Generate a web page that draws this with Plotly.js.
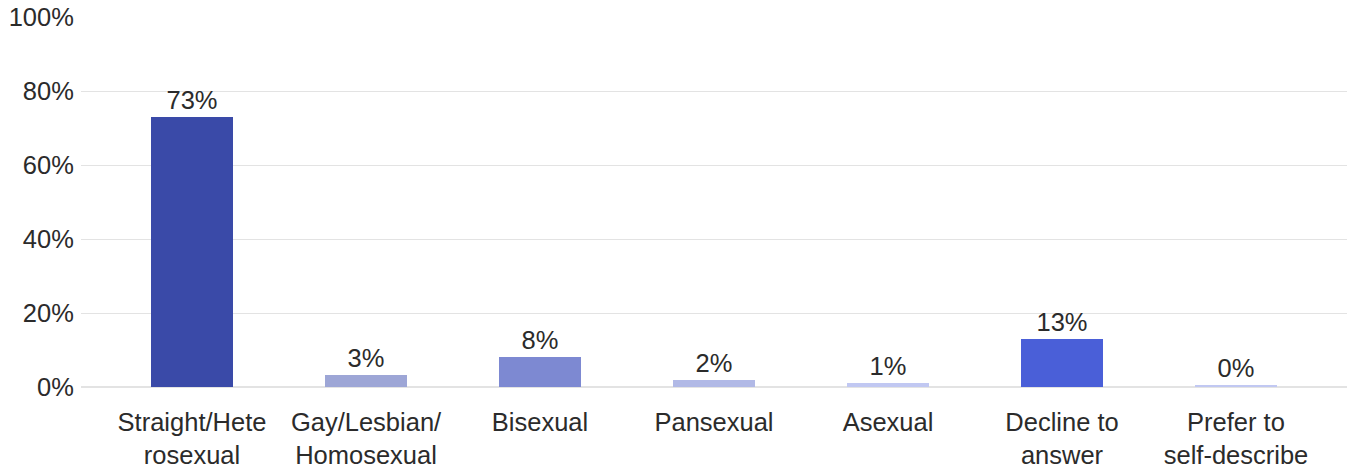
<!DOCTYPE html>
<html>
<head>
<meta charset="utf-8">
<script src="https://cdn.plot.ly/plotly-3.0.1.min.js"></script>
<style>html,body{margin:0;padding:0;background:#fff;}#chart{width:1353px;height:470px;}</style>
</head>
<body>
<div id="chart"></div>
<script>
const categories = ["Straight/Hete<br>rosexual", "Gay/Lesbian/<br>Homosexual", "Bisexual", "Pansexual", "Asexual", "Decline to<br>answer", "Prefer to<br>self-describe"];
const values = [73, 3.2, 8.1, 1.9, 1.1, 13, 0.49];
const labels = ["73%", "3%", "8%", "2%", "1%", "13%", "0%"];
const colors = ["#3a4aa8", "#9da6d6", "#7d89d2", "#b1b9e6", "#c1c8f2", "#4a5fd8", "#c1c8f2"];
const yTicks = [0, 20, 40, 60, 80, 100];
const yTickText = ["0%", "20%", "40%", "60%", "80%", "100%"];

const font = "Liberation Sans, Arial, sans-serif";
const fs = 25.5;
Plotly.newPlot("chart", [{
  type: "bar",
  x: categories,
  y: values,
  text: labels,
  textposition: "outside",
  cliponaxis: false,
  textfont: {family: font, size: fs, color: "#2b2b2b"},
  marker: {color: colors},
  width: 0.471,
  hoverinfo: "none"
}], {
  width: 1353, height: 470,
  margin: {l: 81, r: 6, t: 17, b: 83},
  paper_bgcolor: "#fff", plot_bgcolor: "#fff",
  showlegend: false,
  font: {family: font, size: fs, color: "#2b2b2b"},
  xaxis: {
    range: [-0.638, 6.638],
    showgrid: false, zeroline: false, showline: false,
    ticks: "outside", ticklen: 12, tickcolor: "rgba(0,0,0,0)",
    tickfont: {family: font, size: fs, color: "#2b2b2b"},
    fixedrange: true
  },
  yaxis: {
    range: [0, 100],
    tickvals: yTicks, ticktext: yTickText,
    showgrid: true, gridcolor: "#e3e3e3", gridwidth: 1,
    zeroline: true, zerolinecolor: "#e3e3e3", zerolinewidth: 2,
    showline: false,
    ticks: "outside", ticklen: 1, tickcolor: "rgba(0,0,0,0)",
    tickfont: {family: font, size: fs, color: "#2b2b2b"},
    fixedrange: true
  },
  bargap: 0
}, {displayModeBar: false, staticPlot: true});
</script>
</body>
</html>
